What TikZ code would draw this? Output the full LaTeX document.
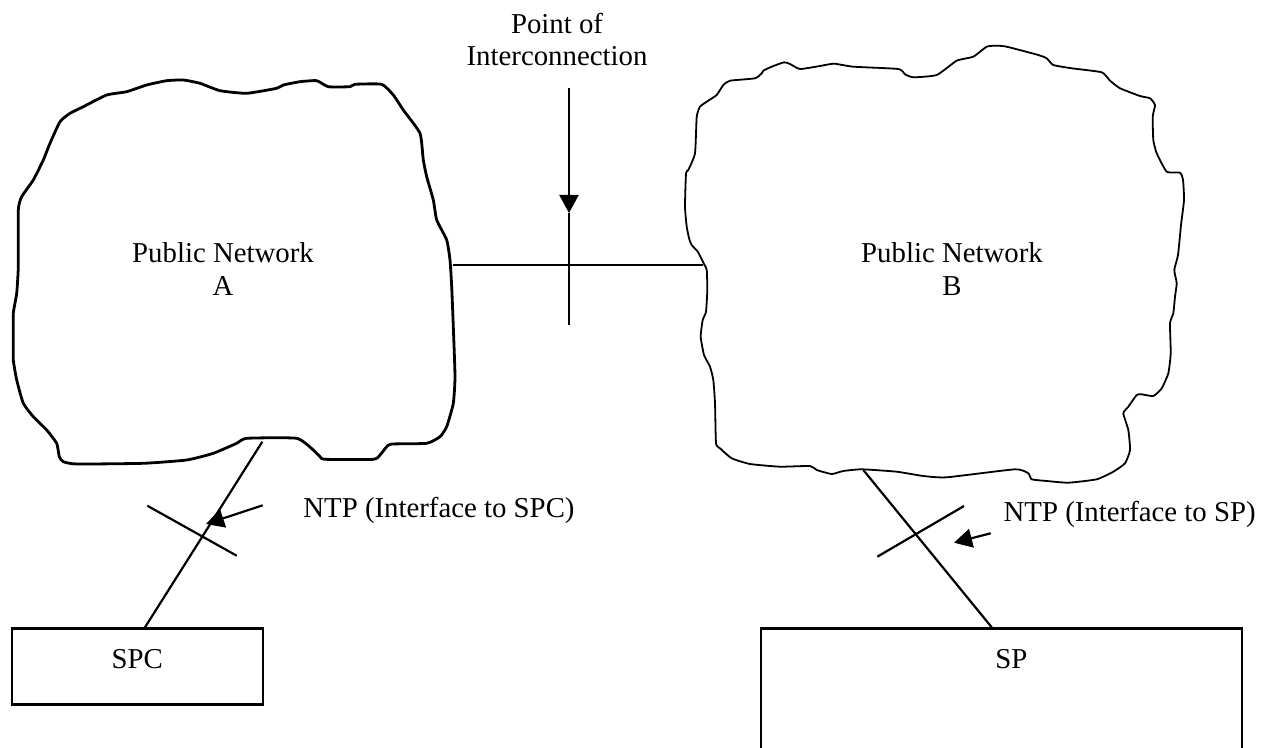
\documentclass[tikz,border=0pt]{standalone}
\usepackage{fontspec}
\setmainfont{Liberation Serif}
\usetikzlibrary{backgrounds}
\usetikzlibrary{positioning}
\usetikzlibrary{arrows.meta}
\colorlet{lineCol}{black}

\tikzset{
  cloudA/.style={draw=lineCol, line width=1.4pt, line join=round},
  cloudB/.style={draw=lineCol, line width=0.9pt, line join=round},
  link/.style={draw=lineCol, line width=1.1pt},
  pointer/.style={link, -{Triangle[length=9pt,width=9.5pt]}},
  netText/.style={font=\fontsize{14.4}{16.25}\selectfont, align=center, inner sep=0pt},
  box/.style={draw=lineCol, line width=1.1pt, inner sep=0pt, anchor=north,
    font=\fontsize{14.4}{16.25}\selectfont, text height=20pt}
}

\begin{document}
\begin{tikzpicture}[x=0.5pt, y=-0.5pt]
%--------------------------------------------------
\useasboundingbox (0,0) rectangle (1261,748);
\clip (0,0) rectangle (1261,748);

% drawing the two public networks as clouds
\draw[cloudA] plot[smooth cycle, tension=0.3] coordinates {
  (60,121.7) (70,113.3) (83.3,106.7) (106.7,95) (126.7,91.7) (146.7,85)
  (166.7,80.7) (183.3,80) (200,83.3) (220,90.7) (246.7,93.3) (276.7,88.3)
  (283.3,85) (300,81.7) (316.7,80.7) (328.3,86.7) (350,86.7) (355,84.3)
  (381.7,84.3) (393.3,95) (403.3,110) (420,133.3) (423.3,160) (426.7,176.7)
  (433.3,200) (436.7,220) (446.7,240) (450,260) (451.7,286.7) (453.3,326.7)
  (455,376.7) (453.3,403.3) (446.7,426.7) (440,436.7) (426.7,443.3) (391.7,444)
  (386.7,446.7) (380,455) (373.3,459.3) (325,459.3) (320,456.7) (313.3,450)
  (296.7,438.3) (246.7,438.3) (236.7,443.3) (213.3,453.3) (186.7,460) (143.3,463.3)
  (76.7,464) (63.3,461.7) (59.3,456.7) (56.7,443.3) (46.7,430) (33.3,416.7)
  (23.3,403.3) (16.7,380) (13.3,360) (13.3,340) (13.3,313.3) (16.7,293.3)
  (18.3,266.7) (18.3,210) (21.7,196.7) (33.3,180) (43.3,160) (50,143.3)};

\draw[cloudB] plot[smooth cycle, tension=0.3] coordinates {
  (723.3,85) (730,80.7) (755,78.3) (761.7,73.3) (763.3,70.7) (771.7,66.7)
  (784,62.3) (790,64) (800,69) (820,66) (834,63.7) (853.3,66.7) (898.3,69)
  (905,74.3) (913.3,77.3) (936.7,75) (956.7,60.7) (973.3,56.7) (986.7,46.7)
  (996.7,45.7) (1006.7,46.7) (1038.3,55) (1046.7,58.3) (1053.3,65) (1071.7,68.3)
  (1101.7,72.3) (1110,80.7) (1120,88.3) (1140,96) (1150,98.3) (1155,105)
  (1152.7,116.7) (1153.3,140) (1156.7,153.3) (1166.7,171.7) (1180,172.7)
  (1183,180) (1184,200) (1181,225) (1178,255) (1174.3,270) (1176.7,283.3)
  (1175,296.7) (1173.3,313.3) (1170,323.3) (1170.7,353.3) (1168.3,373.3)
  (1161.7,388.3) (1153.3,396) (1141.7,394.3) (1136.7,395) (1128.3,406.7)
  (1123.3,413.3) (1128.3,430) (1130,450) (1125,463.3) (1113.3,471.7)
  (1096.7,479.3) (1068.3,482.7) (1046.7,481) (1031.7,479.3) (1028.3,473.3)
  (1015,469.3) (946.7,477.3) (923.3,476) (896.7,471.7) (861.7,469.3)
  (843.3,471) (831.7,474) (816.7,470) (810,466) (780,466.7) (750,464)
  (731.7,458.3) (720,448.3) (716,443.3) (715,403.3) (713.3,380) (710,366.7)
  (704,355) (700.7,336.7) (702.7,320) (706,311.7) (707.3,290) (706.7,270)
  (703,262) (698,252) (691.7,245) (689.3,239.3) (686.7,226.7) (685,206.7)
  (686,173.3) (688.3,170) (695,153.3) (696.7,116.7) (700,106.7) (706.7,101.7)
  (716.7,95)};

% network names (anchored on the last baseline)
\node[netText, anchor=base] (netA) at (223,295) {Public Network\\A};
\node[netText, anchor=base] (netB) at (952,295) {Public Network\\B};
\node[netText, anchor=base] (poiText) at (557,66) {Point of\\Interconnection};

% customer and provider boxes
\node[box, minimum width=125.35pt, text depth=18pt] (spc) at (137.3,627.3) {SPC};
\node[box, minimum width=240.35pt, text depth=46.5pt] (sp) at (1001.3,627.3) {\hspace*{10pt}SP};

% interface labels
\node[netText, anchor=base west] (ntpA) at (303,517) {NTP (Interface to SPC)};
\node[netText, anchor=base east] (ntpB) at (1256,521.7) {NTP (Interface to SP)};

% end points on the clouds and the crossings
\coordinate (aEast) at (453.3,265);
\coordinate (bWest) at (703.3,265);
\coordinate (poiTop) at (569,88);
\coordinate (poiMid) at (569,213);
\coordinate (poiBot) at (569,325);
\coordinate (aLinkTop) at (262.3,441.7);
\coordinate (bLinkTop) at (863.3,470);
\coordinate (aCrossL) at (147.3,505.7);
\coordinate (aCrossR) at (236.7,555.7);
\coordinate (bCrossL) at (877.3,556.7);
\coordinate (bCrossR) at (964,506);
\coordinate (aPtrTail) at (262.7,505.3);
\coordinate (aPtrTip) at (206,524);
\coordinate (bPtrTail) at (990.7,533.3);
\coordinate (bPtrTip) at (954,542.7);

\begin{scope}[on background layer]
% link between the two networks
\draw[link] (aEast) -- (bWest);
\draw[pointer] (poiTop) -- (poiMid);
\draw[link] (poiMid) -- (poiBot);

% access links with their crossings
\draw[link] (aLinkTop) -- ([xshift=3.85pt]spc.north);
\draw[link] (aCrossL) -- (aCrossR);
\draw[pointer] (aPtrTail) -- (aPtrTip);

\draw[link] (bLinkTop) -- ([xshift=-4.8pt]sp.north);
\draw[link] (bCrossL) -- (bCrossR);
\draw[pointer] (bPtrTail) -- (bPtrTip);
\end{scope}

%--------------------------------------------------
\end{tikzpicture}
\end{document}
